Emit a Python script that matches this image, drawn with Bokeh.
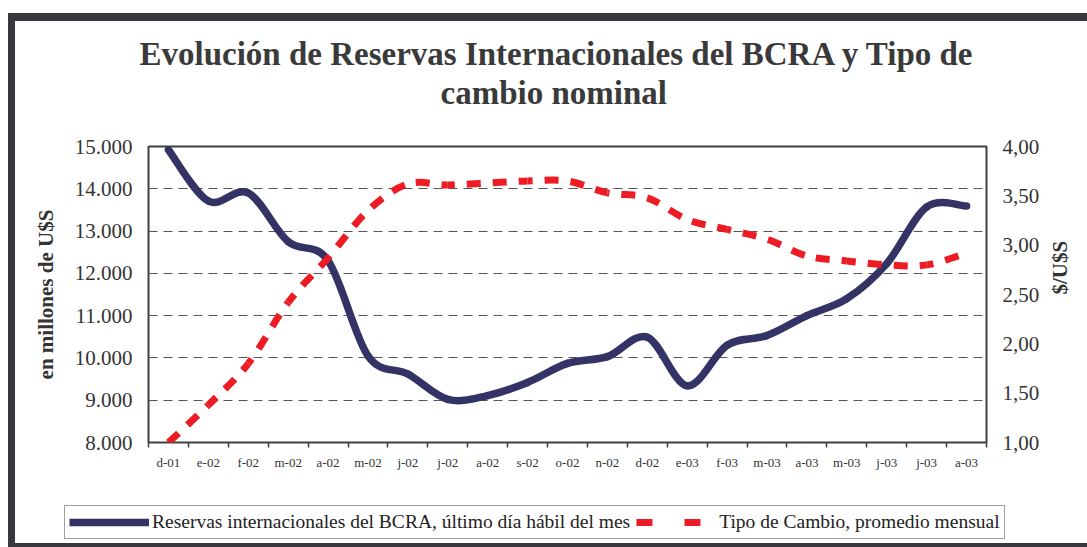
import math
from bokeh.plotting import figure
from bokeh.layouts import column
from bokeh.models import (Range1d, LinearAxis, FixedTicker, ColumnDataSource,
                          Legend, LegendItem, Title)
from bokeh.embed import file_html
from bokeh.resources import INLINE

# ---------------- data ----------------
months = ["d-01", "e-02", "f-02", "m-02", "a-02", "m-02", "j-02", "j-02", "a-02",
          "s-02", "o-02", "n-02", "d-02", "e-03", "f-03", "m-03", "a-03", "m-03",
          "j-03", "j-03", "a-03"]
reservas = [14920, 13710, 13900, 12750, 12300, 10050, 9620, 9020, 9110, 9420,
            9870, 10030, 10490, 9340, 10300, 10530, 11000, 11400, 12230, 13570, 13590]
tipo_cambio = [1.00, 1.38, 1.80, 2.42, 2.87, 3.35, 3.62, 3.61, 3.63, 3.65, 3.65,
               3.53, 3.48, 3.26, 3.16, 3.06, 2.89, 2.84, 2.80, 2.80, 2.92]

left_ticks = [8000, 9000, 10000, 11000, 12000, 13000, 14000, 15000]
left_tick_labels = ["8.000", "9.000", "10.000", "11.000", "12.000", "13.000", "14.000", "15.000"]
right_ticks = [1.0, 1.5, 2.0, 2.5, 3.0, 3.5, 4.0]
right_tick_labels = ["1,00", "1,50", "2,00", "2,50", "3,00", "3,50", "4,00"]

title_lines = ["Evolución de Reservas Internacionales del BCRA y Tipo de", "cambio nominal"]
y_left_label = "en millones de U$S"
y_right_label = "$/U$S"
legend_labels = ["Reservas internacionales del BCRA, último día hábil del mes",
                 "Tipo de Cambio, promedio mensual"]

# ---------------- layout ----------------
W = 1087
H1, H2 = 500, 47                 # chart part, legend strip
FL, FR, FT = 148, 101, 146
FB = H1 - 442
FW, FH = W - FL - FR, H1 - FT - FB

SERIF = "Liberation Serif"
DARK = "#38383d"
BLUE = "#333366"
RED = "#ed1c24"
TXT = "#333333"
TITLE_PX = 33


def bar(x, y, w, h):
    return f"linear-gradient({DARK},{DARK}) {x}px {y}px / {w}px {h}px no-repeat"


def smooth_segments(xs, ys, sx, sy, period):
    """Excel-like smoothed line as cubic Bezier segments (Catmull-Rom control points)."""
    n = len(xs)
    d = dict(x0=[], y0=[], x1=[], y1=[], cx0=[], cy0=[], cx1=[], cy1=[], off=[])
    acc = 0.0
    for i in range(n - 1):
        xa, ya = (xs[i - 1], ys[i - 1]) if i > 0 else (xs[i], ys[i])
        xd, yd = (xs[i + 2], ys[i + 2]) if i + 2 < n else (xs[i + 1], ys[i + 1])
        cx0 = xs[i] + (xs[i + 1] - xa) / 6.0
        cy0 = ys[i] + (ys[i + 1] - ya) / 6.0
        cx1 = xs[i + 1] - (xd - xs[i]) / 6.0
        cy1 = ys[i + 1] - (yd - ys[i]) / 6.0
        d["x0"].append(xs[i]); d["y0"].append(ys[i])
        d["x1"].append(xs[i + 1]); d["y1"].append(ys[i + 1])
        d["cx0"].append(cx0); d["cy0"].append(cy0)
        d["cx1"].append(cx1); d["cy1"].append(cy1)
        d["off"].append(int(round(acc)) % period if period else 0)
        pts = [(xs[i], ys[i]), (cx0, cy0), (cx1, cy1), (xs[i + 1], ys[i + 1])]
        poly = sum((((pts[k + 1][0] - pts[k][0]) * sx) ** 2 +
                    ((pts[k + 1][1] - pts[k][1]) * sy) ** 2) ** 0.5 for k in range(3))
        chord = (((pts[3][0] - pts[0][0]) * sx) ** 2 + ((pts[3][1] - pts[0][1]) * sy) ** 2) ** 0.5
        acc += (poly + chord) / 2.0
    return d


x_idx = list(range(len(months)))

# ---------------- chart ----------------
chart = figure(width=W, height=H1, output_backend="svg", toolbar_location=None, title=None,
               x_range=Range1d(-0.5, len(months) - 0.5),
               y_range=Range1d(left_ticks[0], left_ticks[-1]),
               min_border_left=FL, min_border_right=FR, min_border_top=FT, min_border_bottom=FB,
               background_fill_color="white", border_fill_color=None,
               styles={"background": f"{bar(8, 13, 7, H1 - 13)}, {bar(8, 13, W - 8, 8)}, white"})
chart.frame_align = False
chart.outline_line_color = "#404040"
chart.outline_line_width = 2

chart.extra_y_ranges = {"tc": Range1d(right_ticks[0], right_ticks[-1])}

chart.xgrid.visible = False
chart.ygrid.ticker = FixedTicker(ticks=left_ticks)
chart.ygrid.grid_line_color = "#555555"
chart.ygrid.grid_line_dash = "9 6"
chart.ygrid.grid_line_width = 1

xa = chart.xaxis[0]
xa.ticker = FixedTicker(ticks=x_idx, minor_ticks=[i - 0.5 for i in range(len(months) + 1)])
xa.major_label_overrides = {i: m for i, m in enumerate(months)}
xa.major_tick_out = 0
xa.major_tick_in = 0
xa.minor_tick_out = 5
xa.minor_tick_in = 0
xa.minor_tick_line_color = "#404040"
xa.minor_tick_line_width = 1.5
xa.axis_line_color = None
xa.major_label_standoff = 7
xa.major_label_text_font = SERIF
xa.major_label_text_font_size = "13px"
xa.major_label_text_color = TXT

ya = chart.yaxis[0]
ya.ticker = FixedTicker(ticks=left_ticks)
ya.major_label_overrides = dict(zip(left_ticks, left_tick_labels))
ya.major_tick_out = 0
ya.major_tick_in = 0
ya.minor_tick_out = 0
ya.minor_tick_in = 0
ya.axis_line_color = None
ya.major_label_standoff = 16
ya.major_label_text_font = SERIF
ya.major_label_text_font_size = "21px"
ya.major_label_text_color = TXT
ya.axis_label = y_left_label
ya.axis_label_text_font = SERIF
ya.axis_label_text_font_style = "bold"
ya.axis_label_text_font_size = "21px"
ya.axis_label_text_color = TXT
ya.axis_label_standoff = 14

ra = LinearAxis(y_range_name="tc", ticker=FixedTicker(ticks=right_ticks))
ra.major_label_overrides = dict(zip(right_ticks, right_tick_labels))
ra.major_tick_out = 0
ra.major_tick_in = 0
ra.minor_tick_out = 0
ra.minor_tick_in = 0
ra.axis_line_color = None
ra.major_label_standoff = 16
ra.major_label_text_font = SERIF
ra.major_label_text_font_size = "21px"
ra.major_label_text_color = TXT
ra.axis_label = y_right_label
ra.axis_label_text_font = SERIF
ra.axis_label_text_font_style = "bold"
ra.axis_label_text_font_size = "21px"
ra.axis_label_text_color = TXT
ra.axis_label_standoff = 18
ra.axis_label_orientation = math.pi / 2
chart.add_layout(ra, "right")

px_x = FW / len(months)
px_left = FH / (left_ticks[-1] - left_ticks[0])
px_right = FH / (right_ticks[-1] - right_ticks[0])

src_res = ColumnDataSource(smooth_segments(x_idx, reservas, px_x, px_left, 0))
chart.bezier(x0="x0", y0="y0", x1="x1", y1="y1", cx0="cx0", cy0="cy0", cx1="cx1", cy1="cy1",
             source=src_res, line_color=BLUE, line_width=7.5, line_cap="round")

DASH = "14 12"
DASH_PERIOD = 26
src_tc = ColumnDataSource(smooth_segments(x_idx, tipo_cambio, px_x, px_right, DASH_PERIOD))
chart.bezier(x0="x0", y0="y0", x1="x1", y1="y1", cx0="cx0", cy0="cy0", cx1="cx1", cy1="cy1",
             source=src_tc, y_range_name="tc", line_color=RED, line_width=7,
             line_dash=DASH, line_dash_offset="off", line_cap="butt")

# title: line 2 (with an empty second row as spacing above the frame), then line 1
chart.add_layout(Title(text=title_lines[1] + "\n\u00a0", align="left", offset=292, standoff=0,
                       text_font=SERIF, text_font_style="bold", text_font_size=f"{TITLE_PX}px",
                       text_color="#3a3a3a"), "above")
chart.add_layout(Title(text=title_lines[0], align="left", offset=-9, standoff=2,
                       text_font=SERIF, text_font_style="bold", text_font_size=f"{TITLE_PX}px",
                       text_color="#3a3a3a"), "above")

# ---------------- legend strip ----------------
key = figure(width=W, height=H2, output_backend="svg", toolbar_location=None, title=None,
             x_range=Range1d(0, 1), y_range=Range1d(-2, -1),
             x_axis_type=None, y_axis_type=None,
             min_border_left=0, min_border_right=0, min_border_top=0, min_border_bottom=0,
             background_fill_color=None, border_fill_color=None, outline_line_color=None,
             styles={"background": f"{bar(8, 0, 7, H2)}, {bar(8, H2 - 4, W - 8, 4)}, white"})
key.frame_align = False
key.xgrid.visible = False
key.ygrid.visible = False
# same series drawn outside this strip's visible range: they only provide the legend keys
k_res = key.line(x=x_idx, y=reservas, line_color=BLUE, line_width=7.5)
k_tc = key.line(x=x_idx, y=tipo_cambio, line_color=RED, line_width=7, line_dash="16 32")
legend = Legend(items=[LegendItem(label=legend_labels[0], renderers=[k_res]),
                       LegendItem(label=legend_labels[1], renderers=[k_tc])],
                orientation="horizontal", location=(64, 8),
                glyph_width=80, glyph_height=24, label_height=24, label_standoff=3,
                spacing=6, padding=4, margin=0,
                label_text_font=SERIF, label_text_font_size="19.5px", label_text_color="#222222",
                border_line_color="#404040", border_line_width=1.5,
                background_fill_color="white", background_fill_alpha=1)
key.add_layout(legend)

p = column(chart, key, spacing=0)

open("out.html", "w").write(file_html(p, INLINE))
